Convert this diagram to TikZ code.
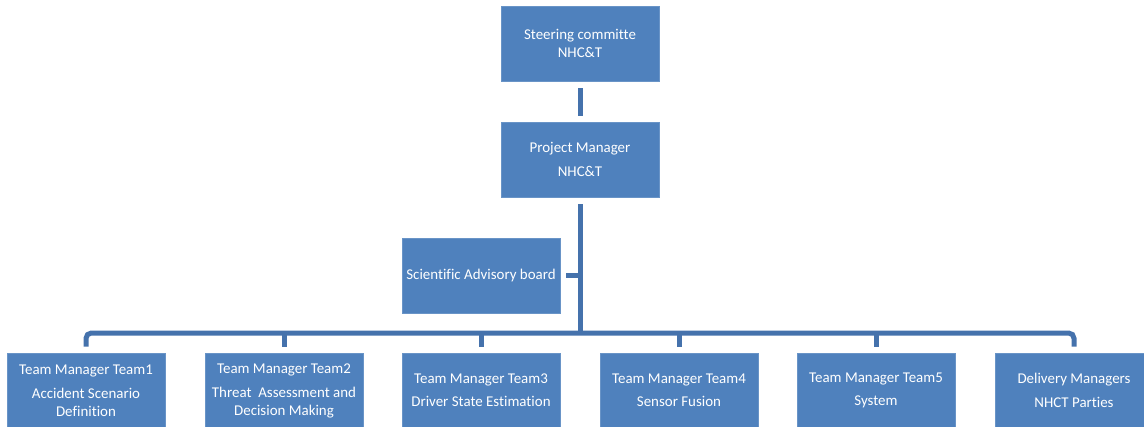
\documentclass[tikz,border=0pt]{standalone}
\usepackage{fontspec}
\setmainfont{Carlito}[Ligatures=CommonOff]
\definecolor{boxblue}{HTML}{4F81BD}
\definecolor{linkblue}{HTML}{4572AC}
\begin{document}
\begin{tikzpicture}[x=0.75pt,y=-0.75pt,
		box/.style={fill=boxblue, draw=boxblue!85!white, line width=0.4pt, text=white, minimum width=118.5pt, minimum height=56.25pt, inner sep=0pt, align=center, font=\fontsize{11.2}{13.5}\selectfont},
		link/.style={draw=linkblue, line width=3.75pt}]
	\useasboundingbox (0,0) rectangle (1144,427);
	\node[box] (sc) at (580,43.5) {Steering committe\\NHC\&T};
	\node[box] (pm) at (580,159.5) {Project Manager\\[4pt]NHC\&T};
	\node[box] (sab) at (481,275.5) {\makebox[0pt]{Scientific Advisory board}};
	\node[box] (t1) at (86,390.5) {Team Manager Team1\\[4.5pt]Accident Scenario\\Definition};
	\node[box] (t2) at (284,390.5) {Team Manager Team2\\[4.5pt]Threat\ \ Assessment and\\Decision Making};
	\node[box] (t3) at (481,390.5) {Team Manager Team3\\[4pt]Driver State Estimation};
	\node[box] (t4) at (679,390.5) {Team Manager Team4\\[4pt]Sensor Fusion};
	\node[box] (t5) at (876,390.5) {Team Manager Team5\\[4pt]System};
	\node[box] (t6) at (1074,390.5) {Delivery Managers\\[4pt]NHCT Parties};
	\coordinate (bar) at (580,333);
	\draw[link, shorten <=5.25pt, shorten >=4.5pt] (sc) -- (pm);
	\draw[link, shorten <=5.25pt] (pm.south) -- (bar);
	\draw[link] ([xshift=4.5pt]sab.east) -- (sab.east -| bar);
	\draw[link, rounded corners=4pt] ([yshift=4.5pt]t1.north) -- (t1.north |- bar) -- (t6.north |- bar) -- ([yshift=4.5pt]t6.north);
	\foreach \i in {2,...,5}
		\draw[link] (t\i.north |- bar) -- ([yshift=4.5pt]t\i.north);
\end{tikzpicture}
\end{document}
